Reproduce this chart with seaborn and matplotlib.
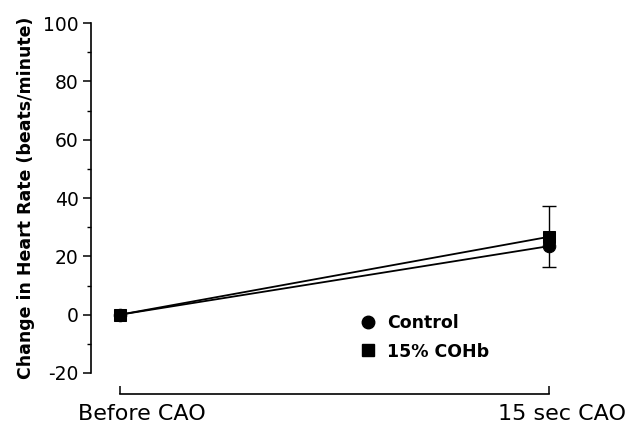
import matplotlib
matplotlib.use("Agg")
import matplotlib.pyplot as plt
import matplotlib.transforms as mtransforms
from matplotlib.lines import Line2D
from matplotlib.ticker import MultipleLocator
import numpy as np
import pandas as pd
import seaborn as sns

# ---- data ----
conditions = ["Before CAO", "15 sec CAO"]
control = [0.0, 23.5]
cohb = [0.0, 26.7]
cohb_err = [0.0, 10.4]
series_names = ["Control", "15% COHb"]
y_ticks = [-20, 0, 20, 40, 60, 80, 100]

sns.set_theme(style="white")
plt.rcParams["font.family"] = ["DejaVu Sans"]
plt.rcParams["axes.unicode_minus"] = False
plt.rcParams["text.color"] = "black"

df = pd.DataFrame({
    "x": list(range(len(conditions))) * 2,
    "y": control + cohb,
    "group": [series_names[0]] * len(conditions) + [series_names[1]] * len(conditions),
})

fig = plt.figure(figsize=(6.29, 4.28), dpi=100)
W, H = 629, 428
ax = fig.add_axes([91 / W, (428 - 373) / H, (560 - 91) / W, (373 - 23) / H])

sns.lineplot(data=df, x="x", y="y", hue="group", style="group",
             palette=["black", "black"], markers={"Control": "o", "15% COHb": "s"},
             dashes=False, markersize=9, linewidth=1.3, markeredgecolor="black",
             legend=False, ax=ax)

xs = np.arange(len(conditions))
ax.errorbar(xs[1:], cohb[1:], yerr=cohb_err[1:], fmt="none", ecolor="black",
            elinewidth=1.0, capsize=5, capthick=1.0)

ax.set_xlim(-(120 - 91) / 429, 1 + (560 - 549) / 429)
ax.set_ylim(-20, 100)

for s in ["top", "right"]:
    ax.spines[s].set_visible(False)
ax.spines["left"].set_bounds(-20, 100)
ax.spines["left"].set_color("black")
ax.spines["left"].set_linewidth(1.2)
ax.spines["bottom"].set_position(("outward", 15))
ax.spines["bottom"].set_bounds(0, 1)
ax.spines["bottom"].set_color("black")
ax.spines["bottom"].set_linewidth(1.2)

ax.set_yticks(y_ticks)
ax.set_yticklabels([str(v) for v in y_ticks], fontsize=13.5)
ax.yaxis.set_minor_locator(MultipleLocator(10))
ax.tick_params(axis="y", which="major", direction="out", length=6, width=1.1,
               color="black", left=True, pad=3, labelcolor="black")
ax.tick_params(axis="y", which="minor", direction="out", length=3, width=1.0,
               color="black", left=True)

ax.set_xticks(xs)
ax.set_xticklabels(conditions, fontsize=16)
ax.tick_params(axis="x", which="major", direction="in", length=6, width=1.1,
               color="black", bottom=True, pad=7, labelcolor="black")
offsets = [22, 13]
for lbl, off in zip(ax.get_xticklabels(), offsets):
    lbl.set_transform(lbl.get_transform() + mtransforms.ScaledTranslation(off / 100, 0, fig.dpi_scale_trans))

ax.set_xlabel("")
ax.set_ylabel("Change in Heart Rate (beats/minute)", fontsize=12.5,
              fontweight="bold", color="black", labelpad=6)
ax.grid(False)

handles = [Line2D([], [], linestyle="none", marker="o", color="black", markersize=9),
           Line2D([], [], linestyle="none", marker="s", color="black", markersize=8)]
leg = ax.legend(handles, series_names, loc="upper left",
                bbox_to_anchor=((347 - 91) / 469, (373 - 302) / 350),
                frameon=False, prop={"weight": "bold", "size": 12.5},
                handletextpad=0.6, labelspacing=0.6, handlelength=1.0,
                borderaxespad=0.3)
for t in leg.get_texts():
    t.set_color("black")

fig.savefig("out.png", dpi=100)
